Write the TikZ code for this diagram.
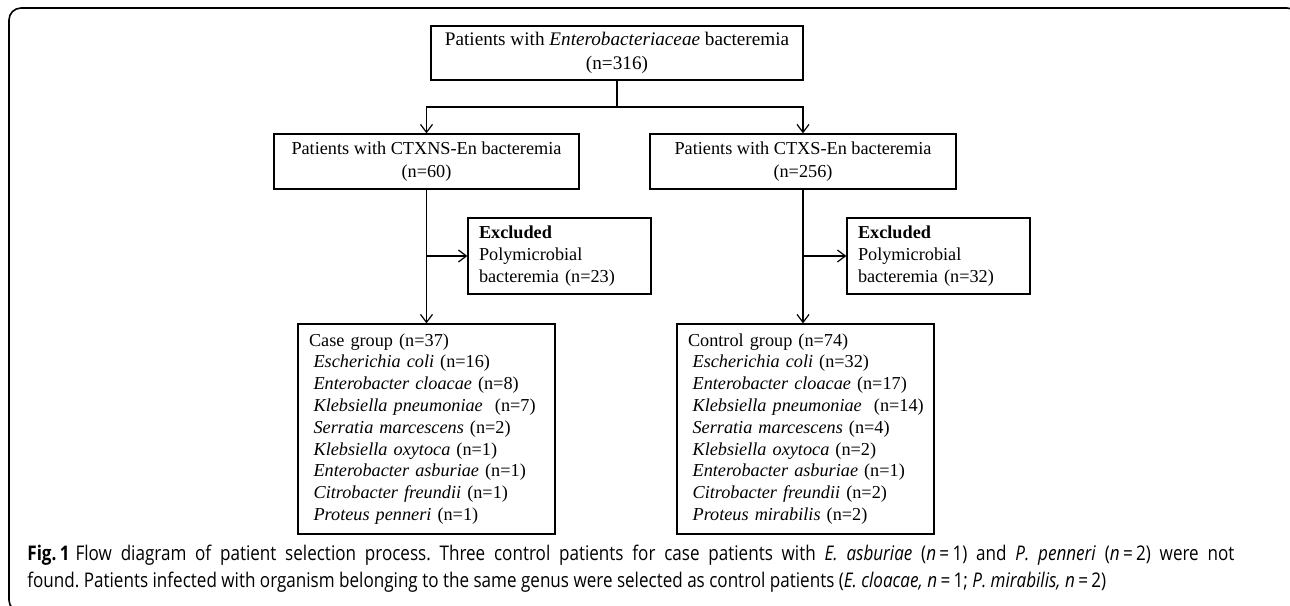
\documentclass[tikz,border=0pt]{standalone}
\usepackage{fontspec}
\setmainfont{Liberation Serif}
\newfontfamily\capfont[FakeStretch=0.845]{Open Sans}
\usetikzlibrary{arrows.meta}
\frenchspacing
\tikzset{
  box/.style={draw=black, line width=0.6pt, inner sep=0pt, font=\fontsize{9.12}{11.5}\selectfont},
  lbox/.style={box, align=left, inner xsep=5.5pt},
  conn/.style={draw=black, line width=0.6pt},
  arr/.style={conn, -{Straight Barb[length=4pt,width=6pt,line width=0.6pt]}},
  frame/.style={draw=black, line width=0.8pt, rounded corners=6pt},
  captext/.style={anchor=base west, inner sep=0pt, font=\capfont\fontsize{10.1}{12}\selectfont}
}
\begin{document}
\begin{tikzpicture}[x=0.5pt,y=-0.5pt]
\useasboundingbox (0,0) rectangle (1290,605);
\begin{scope}
\clip (0,0) rectangle (1290,605);
\draw[frame] (9,8) rectangle (1299,612);
\end{scope}

\node[box, align=center, minimum width=186pt, minimum height=27pt,
      font=\fontsize{9.6}{12}\selectfont] (top) at (617,53)
  {Patients with \textit{Enterobacteriaceae} bacteremia\\(n=316)};
\node[box, align=center, minimum width=152.5pt, minimum height=27.5pt] (ctxns) at (426.5,161.5)
  {Patients with CTXNS-En bacteremia\\(n=60)};
\node[box, align=center, minimum width=153pt, minimum height=27.5pt] (ctxs) at (803,161.5)
  {Patients with CTXS-En bacteremia\\(n=256)};
\node[lbox, text width=80.5pt, minimum height=38pt,
      font=\fontsize{9.12}{11}\selectfont] (exl) at (559.5,256)
  {\textbf{Excluded}\\Polymicrobial\\bacteremia (n=23)};
\node[lbox, text width=80.5pt, minimum height=38pt,
      font=\fontsize{9.12}{11}\selectfont] (exr) at (938.5,256)
  {\textbf{Excluded}\\Polymicrobial\\bacteremia (n=32)};
\node[lbox, text width=117.5pt, minimum height=105pt,
      font=\fontsize{9.12}{10.9}\selectfont] (case) at (426.5,429)
  {\mbox{Case group (n=37)}\\
   \mbox{\hspace*{2.3pt}\textit{Escherichia coli} (n=16)}\\
   \mbox{\hspace*{2.3pt}\textit{Enterobacter cloacae} (n=8)}\\
   \mbox{\hspace*{2.3pt}\textit{Klebsiella pneumoniae}\ \ (n=7)}\\
   \mbox{\hspace*{2.3pt}\textit{Serratia marcescens} (n=2)}\\
   \mbox{\hspace*{2.3pt}\textit{Klebsiella oxytoca} (n=1)}\\
   \mbox{\hspace*{2.3pt}\textit{Enterobacter asburiae} (n=1)}\\
   \mbox{\hspace*{2.3pt}\textit{Citrobacter freundii} (n=1)}\\
   \mbox{\hspace*{2.3pt}\textit{Proteus penneri} (n=1)}};
\node[lbox, text width=117.5pt, minimum height=105pt,
      font=\fontsize{9.12}{10.9}\selectfont] (control) at (805.5,429)
  {\mbox{Control group (n=74)}\\
   \mbox{\hspace*{2.3pt}\textit{Escherichia coli} (n=32)}\\
   \mbox{\hspace*{2.3pt}\textit{Enterobacter cloacae} (n=17)}\\
   \mbox{\hspace*{2.3pt}\textit{Klebsiella pneumoniae}\ \ (n=14)}\\
   \mbox{\hspace*{2.3pt}\textit{Serratia marcescens} (n=4)}\\
   \mbox{\hspace*{2.3pt}\textit{Klebsiella oxytoca} (n=2)}\\
   \mbox{\hspace*{2.3pt}\textit{Enterobacter asburiae} (n=1)}\\
   \mbox{\hspace*{2.3pt}\textit{Citrobacter freundii} (n=2)}\\
   \mbox{\hspace*{2.3pt}\textit{Proteus mirabilis} (n=2)}};

\coordinate (split) at (617,107);
\draw[conn] (top.south) -- (split);
\draw[arr] (split) -| (ctxns.north);
\draw[arr] (split) -| (ctxs.north);
\draw[arr] (ctxns.south) -- (case.north);
\draw[arr] (ctxs.south) -- (ctxs.south |- control.north);
\draw[arr] (ctxns.south |- exl.west) -- (exl.west);
\draw[arr] (ctxs.south |- exr.west) -- (exr.west);

\node[captext] (cap1) at (27,560)
  {\makebox[603.5pt][s]{\textbf{Fig.\,1}\hspace{3pt}Flow diagram of patient selection process. Three control patients for case patients with \textit{E. asburiae} (\textit{n}\,=\,1) and \textit{P. penneri} (\textit{n}\,=\,2) were not}};
\node[captext] (cap2) at (27,587)
  {found. Patients infected with organism belonging to the same genus were selected as control patients (\textit{E. cloacae, n}\,=\,1; \textit{P. mirabilis, n}\,=\,2)};
\end{tikzpicture}
\end{document}
